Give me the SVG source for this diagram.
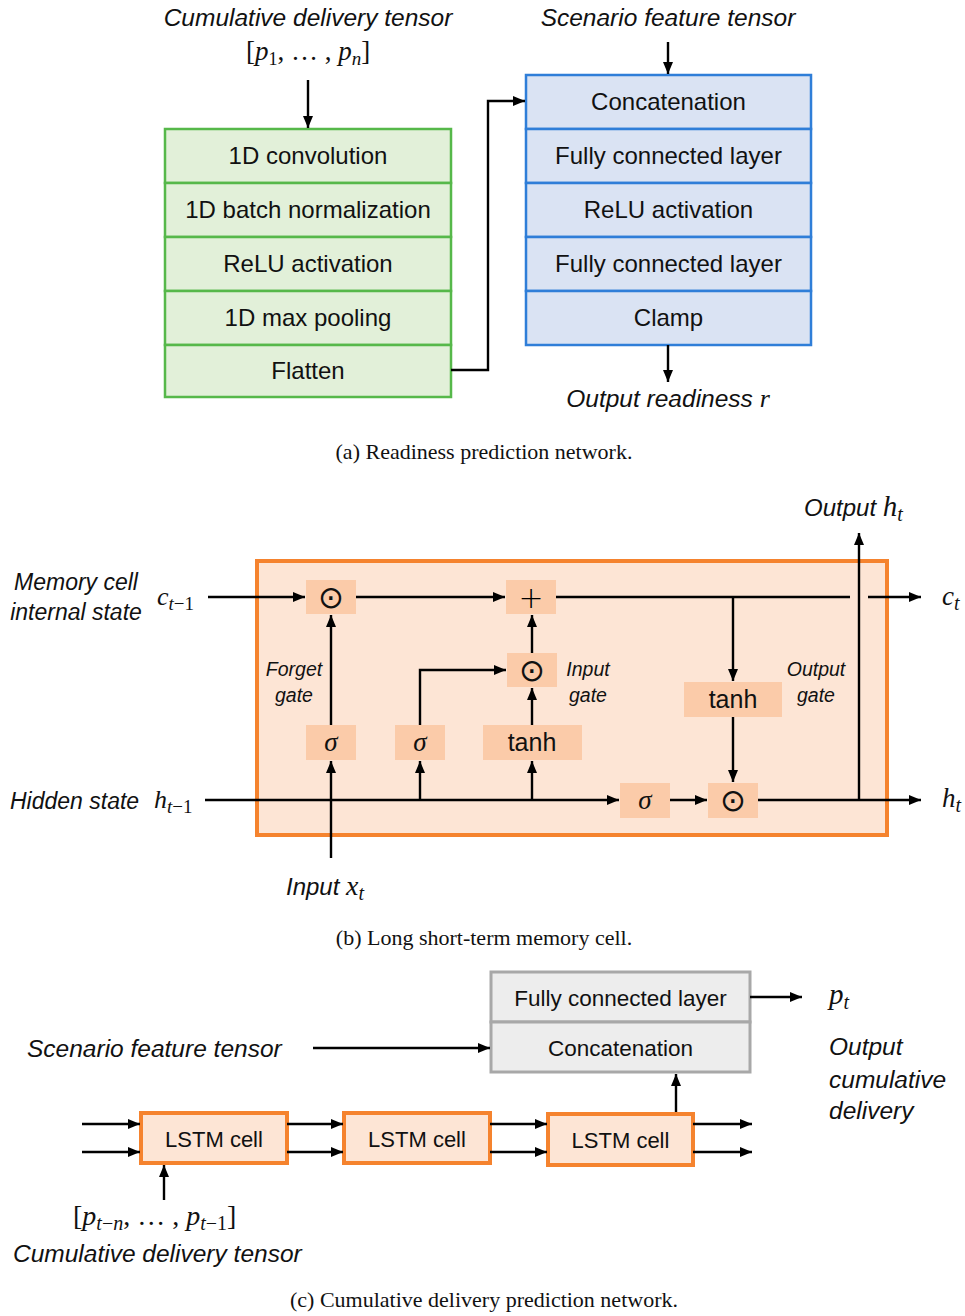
<svg xmlns="http://www.w3.org/2000/svg" width="965" height="1316" viewBox="0 0 965 1316">
<style>
.t{font-family:"Liberation Sans",Arial,sans-serif;fill:#111;text-anchor:middle}
.i{font-family:"Liberation Sans",Arial,sans-serif;font-style:italic;fill:#111}
.m{font-family:"Liberation Serif","Times New Roman",serif;font-style:italic;fill:#111}
.mu{font-family:"Liberation Serif","Times New Roman",serif;font-style:normal;fill:#111}
.cap{font-family:"Liberation Serif","Times New Roman",serif;font-size:22px;fill:#111;text-anchor:middle}
.g{fill:#e2f0d9;stroke:#56b84a;stroke-width:2.5}
.b{fill:#dae3f3;stroke:#2f7ed8;stroke-width:2.5}
.o{fill:#fde5d5;stroke:#f5832e;stroke-width:4}
.ob{fill:#fbcba9;stroke:none}
.gr{fill:#ededed;stroke:#a8a8a8;stroke-width:3}
.c{fill:none;stroke:#000;stroke-width:2.4}
.ca{fill:none;stroke:#000;stroke-width:2.4;marker-end:url(#ah)}
.odot{font-family:"DejaVu Sans",sans-serif;font-size:31px;text-anchor:middle;fill:#111}
</style>
<defs>
<marker id="ah" markerUnits="userSpaceOnUse" markerWidth="13" markerHeight="10" refX="12" refY="5" orient="auto">
<path d="M0,0 L12,5 L0,10 z" fill="#000"/>
</marker>
</defs>

<!-- ===== (a) ===== -->
<g id="labels-a">
<text class="i" x="308" y="26" font-size="24.5" text-anchor="middle">Cumulative delivery tensor</text>
<text x="308" y="60" text-anchor="middle" font-size="27"><tspan class="mu">[</tspan><tspan class="m">p</tspan><tspan class="mu" font-size="18" dy="5">1</tspan><tspan class="mu" dy="-5">, … , </tspan><tspan class="m">p</tspan><tspan class="m" font-size="19" dy="5">n</tspan><tspan class="mu" dy="-5">]</tspan></text>
<text class="i" x="668" y="26" font-size="24.5" text-anchor="middle">Scenario feature tensor</text>
<text class="i" x="668" y="407" font-size="24.5" text-anchor="middle">Output readiness <tspan font-family="Liberation Serif,serif" font-size="26">r</tspan></text>
</g>
<g id="conv-stack">
<rect class="g" x="165" y="129" width="286" height="54"/>
<rect class="g" x="165" y="183" width="286" height="54"/>
<rect class="g" x="165" y="237" width="286" height="54"/>
<rect class="g" x="165" y="291" width="286" height="54"/>
<rect class="g" x="165" y="345" width="286" height="52"/>
<text class="t" x="308" y="164" font-size="24">1D convolution</text>
<text class="t" x="308" y="218" font-size="24">1D batch normalization</text>
<text class="t" x="308" y="272" font-size="24">ReLU activation</text>
<text class="t" x="308" y="326" font-size="24">1D max pooling</text>
<text class="t" x="308" y="379" font-size="24">Flatten</text>
</g>
<g id="fc-stack">
<rect class="b" x="526" y="75" width="285" height="54"/>
<rect class="b" x="526" y="129" width="285" height="54"/>
<rect class="b" x="526" y="183" width="285" height="54"/>
<rect class="b" x="526" y="237" width="285" height="54"/>
<rect class="b" x="526" y="291" width="285" height="54"/>
<text class="t" x="668.5" y="110" font-size="24">Concatenation</text>
<text class="t" x="668.5" y="164" font-size="24">Fully connected layer</text>
<text class="t" x="668.5" y="218" font-size="24">ReLU activation</text>
<text class="t" x="668.5" y="272" font-size="24">Fully connected layer</text>
<text class="t" x="668.5" y="326" font-size="24">Clamp</text>
</g>
<g id="connectors-a">
<path class="ca" d="M308,80 V128"/>
<path class="ca" d="M668,42 V74"/>
<path class="ca" d="M451,370 H488 V101 H525"/>
<path class="ca" d="M668,345 V382"/>
</g>
<text class="cap" x="484" y="459">(a)  Readiness prediction network.</text>

<!-- ===== (b) ===== -->
<g id="lstm-cell">
<rect class="o" x="257" y="561" width="630" height="274"/>
</g>
<g id="op-forget-mul"><rect class="ob" x="306" y="580" width="50" height="34"/><text class="odot" x="331" y="608">⊙</text></g>
<g id="op-add"><rect class="ob" x="506" y="580" width="50" height="34"/><text x="531" y="608" font-family="DejaVu Sans,sans-serif" font-size="30" text-anchor="middle" font-weight="300">+</text></g>
<g id="op-input-mul"><rect class="ob" x="507" y="653" width="50" height="34"/><text class="odot" x="532" y="681">⊙</text></g>
<g id="sigma-forget"><rect class="ob" x="306" y="725" width="50" height="35"/><text class="m" x="331" y="751" font-size="27" text-anchor="middle">σ</text></g>
<g id="sigma-input"><rect class="ob" x="395" y="725" width="50" height="35"/><text class="m" x="420" y="751" font-size="27" text-anchor="middle">σ</text></g>
<g id="tanh-input"><rect class="ob" x="483" y="725" width="99" height="35"/><text class="t" x="532" y="751" font-size="25">tanh</text></g>
<g id="tanh-output"><rect class="ob" x="684" y="682" width="98" height="35"/><text class="t" x="733" y="708" font-size="25">tanh</text></g>
<g id="sigma-output"><rect class="ob" x="620" y="783" width="50" height="35"/><text class="m" x="645" y="809" font-size="27" text-anchor="middle">σ</text></g>
<g id="op-output-mul"><rect class="ob" x="708" y="783" width="50" height="35"/><text class="odot" x="733" y="811">⊙</text></g>

<g id="labels-b">
<text class="i" x="76" y="590" font-size="23" text-anchor="middle">Memory cell</text>
<text class="i" x="76" y="620" font-size="23" text-anchor="middle">internal state</text>
<text x="157" y="605" font-size="26"><tspan class="m">c</tspan><tspan class="m" font-size="19" dy="5">t</tspan><tspan class="mu" font-size="19">−1</tspan></text>
<text class="i" x="10" y="809" font-size="23">Hidden state</text>
<text x="154" y="808" font-size="26"><tspan class="m">h</tspan><tspan class="m" font-size="19" dy="5">t</tspan><tspan class="mu" font-size="19">−1</tspan></text>
<text class="i" x="294" y="676" font-size="19.5" text-anchor="middle">Forget</text>
<text class="i" x="294" y="702" font-size="19.5" text-anchor="middle">gate</text>
<text class="i" x="588" y="676" font-size="19.5" text-anchor="middle">Input</text>
<text class="i" x="588" y="702" font-size="19.5" text-anchor="middle">gate</text>
<text class="i" x="816" y="676" font-size="19.5" text-anchor="middle">Output</text>
<text class="i" x="816" y="702" font-size="19.5" text-anchor="middle">gate</text>
<text x="286" y="895" font-size="24"><tspan class="i">Input </tspan><tspan class="m" font-size="28">x</tspan><tspan class="m" font-size="20" dy="5">t</tspan></text>
<text x="804" y="516" font-size="24"><tspan class="i">Output </tspan><tspan class="m" font-size="29">h</tspan><tspan class="m" font-size="20" dy="5">t</tspan></text>
<text x="942" y="605" font-size="27"><tspan class="m">c</tspan><tspan class="m" font-size="20" dy="5">t</tspan></text>
<text x="942" y="807" font-size="27"><tspan class="m">h</tspan><tspan class="m" font-size="20" dy="5">t</tspan></text>
</g>
<g id="connectors-b">
<path class="ca" d="M208,597 H305"/>
<path class="ca" d="M356,597 H505"/>
<path class="c" d="M556,597 H850"/>
<path class="ca" d="M868,597 H921"/>
<path class="ca" d="M733,597 V681"/>
<path class="ca" d="M733,717 V782"/>
<path class="ca" d="M205,800 H619"/>
<path class="ca" d="M670,800 H707"/>
<path class="ca" d="M758,800 H921"/>
<path class="ca" d="M859,800 V533"/>
<path class="ca" d="M331,858 V761"/>
<path class="ca" d="M331,725 V615"/>
<path class="ca" d="M420,800 V761"/>
<path class="ca" d="M420,725 V670 H506"/>
<path class="ca" d="M532,800 V761"/>
<path class="ca" d="M532,725 V688"/>
<path class="ca" d="M532,653 V615"/>
</g>
<text class="cap" x="484" y="945">(b)  Long short-term memory cell.</text>

<!-- ===== (c) ===== -->
<g id="head">
<rect class="gr" x="491" y="972" width="259" height="50"/>
<rect class="gr" x="491" y="1022" width="259" height="50"/>
<text class="t" x="620.5" y="1006" font-size="22.5">Fully connected layer</text>
<text class="t" x="620.5" y="1056" font-size="22.5">Concatenation</text>
</g>
<g id="lstm1"><rect class="o" x="141" y="1113" width="146" height="50" stroke-width="3.5"/><text class="t" x="214" y="1147" font-size="22">LSTM cell</text></g>
<g id="lstm2"><rect class="o" x="344" y="1113" width="146" height="50" stroke-width="3.5"/><text class="t" x="417" y="1147" font-size="22">LSTM cell</text></g>
<g id="lstm3"><rect class="o" x="548" y="1114" width="145" height="51" stroke-width="4.5"/><text class="t" x="620.5" y="1148" font-size="22">LSTM cell</text></g>
<g id="labels-c">
<text class="i" x="27" y="1057" font-size="24.5">Scenario feature tensor</text>
<text x="829" y="1004" font-size="29"><tspan class="m">p</tspan><tspan class="m" font-size="20" dy="5">t</tspan></text>
<text class="i" x="829" y="1055" font-size="24.5">Output</text>
<text class="i" x="829" y="1088" font-size="24.5">cumulative</text>
<text class="i" x="829" y="1119" font-size="24.5">delivery</text>
<text x="73" y="1225" font-size="28"><tspan class="mu">[</tspan><tspan class="m">p</tspan><tspan class="m" font-size="20" dy="5">t</tspan><tspan class="mu" font-size="20">−</tspan><tspan class="m" font-size="20">n</tspan><tspan class="mu" dy="-5">, … , </tspan><tspan class="m">p</tspan><tspan class="m" font-size="20" dy="5">t</tspan><tspan class="mu" font-size="20">−1</tspan><tspan class="mu" dy="-5">]</tspan></text>
<text class="i" x="13" y="1262" font-size="24.5">Cumulative delivery tensor</text>
</g>
<g id="connectors-c">
<path class="ca" d="M750,997 H802"/>
<path class="ca" d="M313,1048 H490"/>
<path class="ca" d="M82,1124 H140"/>
<path class="ca" d="M82,1152 H140"/>
<path class="ca" d="M287,1124 H343"/>
<path class="ca" d="M287,1152 H343"/>
<path class="ca" d="M490,1124 H547"/>
<path class="ca" d="M490,1152 H547"/>
<path class="ca" d="M693,1124 H752"/>
<path class="ca" d="M693,1152 H752"/>
<path class="ca" d="M676,1112 V1074"/>
<path class="ca" d="M164,1200 V1165"/>
</g>
<text class="cap" x="484" y="1307">(c)  Cumulative delivery prediction network.</text>
</svg>
